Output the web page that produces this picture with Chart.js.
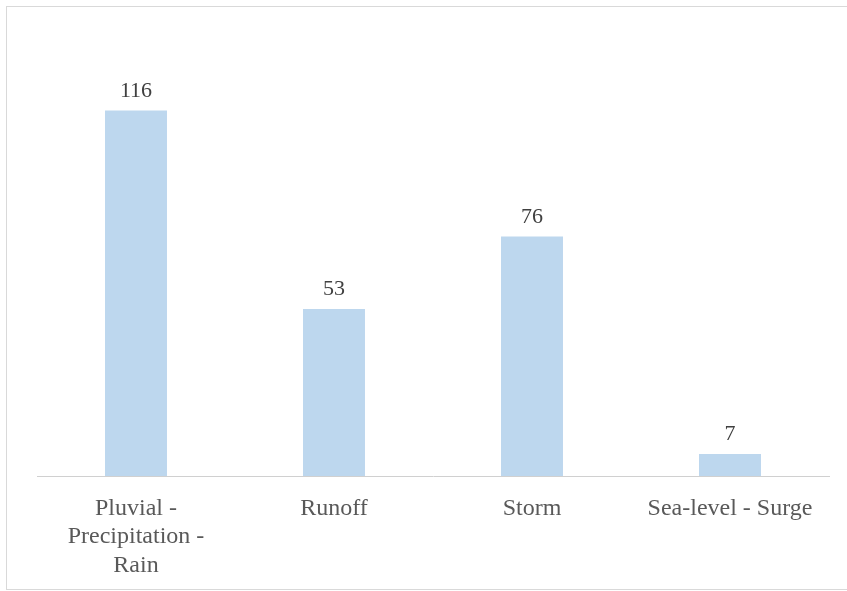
<!DOCTYPE html>
<html>
<head>
<meta charset="utf-8">
<script src="https://cdn.jsdelivr.net/npm/chart.js@4.4.1/dist/chart.umd.min.js"></script>
<style>
  html, body { margin: 0; padding: 0; background: #fff; overflow: hidden; }
  #frame {
    position: absolute; left: 6px; top: 6px;
    width: 900px; height: 582px;
    border: 1px solid #d9d9d9;
  }
  #wrap { position: absolute; left: 0; top: 0; width: 847px; height: 591px; }
</style>
</head>
<body>
<div id="frame"></div>
<div id="wrap"><canvas id="floodChart"></canvas></div>
<script>
let categories = [
    ["Pluvial -", "Precipitation -", "Rain"],
    "Runoff",
    "Storm",
    "Sea-level - Surge"
];
let counts = [116, 53, 76, 7];

// value printed above each bar
const valueLabels = {
    id: "valueLabels",
    afterDatasetsDraw(chart) {
        let ctx = chart.ctx;
        let meta = chart.getDatasetMeta(0);
        ctx.save();
        ctx.font = "22px 'Liberation Serif'";
        ctx.fillStyle = "#404040";
        ctx.textAlign = "center";
        ctx.textBaseline = "alphabetic";
        meta.data.forEach(function (bar, i) {
            ctx.fillText(String(counts[i]), bar.x, bar.y - 14);
        });
        ctx.restore();
    }
};

let ctx = document.getElementById("floodChart").getContext("2d");

let chart = new Chart(ctx, {
    type: "bar",
    data: {
        labels: categories,
        datasets: [{
            data: counts,
            backgroundColor: "#bdd7ee",
            borderWidth: 0,
            barPercentage: 1,
            categoryPercentage: 0.313
        }]
    },
    options: {
        responsive: true,
        maintainAspectRatio: false,
        animation: false,
        layout: { padding: { left: 37, right: 18, top: 35, bottom: 0 } },
        plugins: {
            legend: { display: false },
            tooltip: { enabled: false }
        },
        scales: {
            y: {
                display: false,
                min: 0,
                max: 140
            },
            x: {
                afterFit: function (scale) { scale.height = 115; },
                grid: { display: false, drawTicks: false },
                border: { display: true, color: "#d0d0d0", width: 1 },
                ticks: {
                    color: "#595959",
                    padding: 18,
                    maxRotation: 0,
                    autoSkip: false,
                    font: { family: "'Liberation Serif'", size: 24, lineHeight: 1.2 }
                }
            }
        }
    },
    plugins: [valueLabels]
});
</script>
</body>
</html>
